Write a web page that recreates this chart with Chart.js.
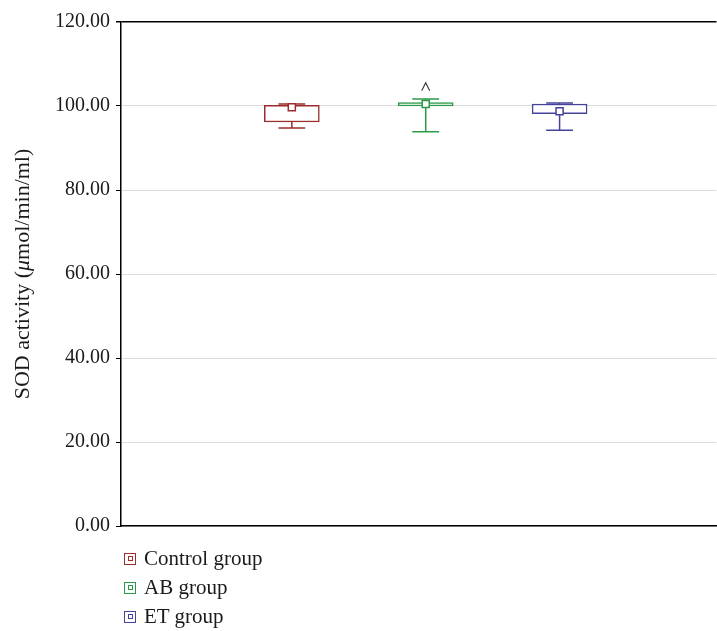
<!DOCTYPE html>
<html><head><meta charset="utf-8">
<script src="https://cdn.jsdelivr.net/npm/chart.js@4"></script>
<style>
html,body{margin:0;padding:0;background:#fff;overflow:hidden;}
#wrap{position:relative;width:717px;height:631px;overflow:hidden;}
#c{position:absolute;left:0;top:0;}
#legend{position:absolute;left:124px;top:544px;font-family:"Liberation Serif",serif;font-size:21px;color:#1a1a1a;}
.row{height:29px;display:flex;align-items:center;}
.ic{width:10px;height:10px;border:1.5px solid;display:flex;align-items:center;justify-content:center;margin-right:8px;box-sizing:content-box;}
.ic span{display:block;width:3px;height:3px;border:1.5px solid;box-sizing:content-box;}
</style></head>
<body><div id="wrap"><canvas id="c" width="723" height="545"></canvas><div id="legend"></div></div>
<script>
const groups = ['Control group', 'AB group', 'ET group'];
const positions = [1, 2, 3];
const whiskerLow = [94.76, 93.88, 94.21];
const q1 = [96.19, 100.0, 98.17];
const q3 = [100.17, 100.79, 100.48];
const whiskerHigh = [100.48, 101.67, 100.71];
const means = [99.69, 100.48, 98.74];
const outliers = [[], [104.6], []];
const yTicks = [0, 20, 40, 60, 80, 100, 120];
const yTitleParts = ['SOD activity (', 'μ', 'mol/min/ml)'];
const colors = ['#9b2d2d', '#2a9a48', '#45439a'];
const FONT = '"Liberation Serif", serif';

// legend
const lg = document.getElementById('legend');
groups.forEach((g, i) => {
  const r = document.createElement('div'); r.className = 'row';
  const ic = document.createElement('div'); ic.className = 'ic'; ic.style.borderColor = colors[i];
  const inn = document.createElement('span'); inn.style.borderColor = colors[i]; ic.appendChild(inn);
  const t = document.createElement('span'); t.textContent = g;
  r.appendChild(ic); r.appendChild(t); lg.appendChild(r);
});

const boxPlugin = {
  id: 'boxExtras',
  beforeDatasetsDraw(chart) {
    const ctx = chart.ctx, xs = chart.scales.x, ys = chart.scales.y;
    ctx.save();
    ctx.lineWidth = 1.5;
    positions.forEach((p, i) => {
      const x = xs.getPixelForValue(p);
      const xl = xs.getPixelForValue(p - 0.1), xr = xs.getPixelForValue(p + 0.1);
      ctx.strokeStyle = colors[i];
      ctx.beginPath();
      ctx.moveTo(x, ys.getPixelForValue(q1[i])); ctx.lineTo(x, ys.getPixelForValue(whiskerLow[i]));
      ctx.moveTo(x, ys.getPixelForValue(q3[i])); ctx.lineTo(x, ys.getPixelForValue(whiskerHigh[i]));
      ctx.moveTo(xl, ys.getPixelForValue(whiskerLow[i])); ctx.lineTo(xr, ys.getPixelForValue(whiskerLow[i]));
      ctx.moveTo(xl, ys.getPixelForValue(whiskerHigh[i])); ctx.lineTo(xr, ys.getPixelForValue(whiskerHigh[i]));
      ctx.stroke();
    });
    ctx.restore();
  },
  afterDatasetsDraw(chart) {
    const ctx = chart.ctx, xs = chart.scales.x, ys = chart.scales.y;
    ctx.save();
    ctx.strokeStyle = '#333';
    ctx.lineWidth = 1.1;
    positions.forEach((p, i) => {
      outliers[i].forEach(v => {
        const x = xs.getPixelForValue(p), y = ys.getPixelForValue(v);
        ctx.beginPath();
        ctx.moveTo(x - 4, y + 4); ctx.lineTo(x, y - 4); ctx.lineTo(x + 4, y + 4);
        ctx.stroke();
      });
    });
    ctx.restore();
  },
  afterDraw(chart) {
    const ctx = chart.ctx, a = chart.chartArea;
    ctx.save();
    ctx.translate(23, (a.top + a.bottom) / 2);
    ctx.rotate(-Math.PI / 2);
    ctx.fillStyle = '#1a1a1a';
    ctx.textBaseline = 'middle';
    ctx.textAlign = 'left';
    const fonts = ['22px ' + FONT, 'italic 22px ' + FONT, '22px ' + FONT];
    let total = 0;
    const w = yTitleParts.map((t, k) => { ctx.font = fonts[k]; const m = ctx.measureText(t).width; total += m; return m; });
    let x = -total / 2;
    yTitleParts.forEach((t, k) => { ctx.font = fonts[k]; ctx.fillText(t, x, 0); x += w[k]; });
    ctx.restore();
  }
};

new Chart(document.getElementById('c'), {
  type: 'bar',
  data: {
    datasets: [
      {
        type: 'scatter',
        order: 0,
        data: positions.map((p, i) => ({ x: p, y: means[i] })),
        pointStyle: 'rect',
        radius: 5,
        borderColor: colors,
        backgroundColor: '#fff',
        borderWidth: 1.5
      },
      {
        type: 'bar',
        order: 1,
        data: positions.map((p, i) => ({ x: p, y: [q1[i], q3[i]] })),
        backgroundColor: '#fff',
        borderColor: colors,
        borderWidth: 1.5,
        borderSkipped: false,
        barThickness: 55,
        grouped: false
      }
    ]
  },
  options: {
    responsive: false,
    animation: false,
    layout: { padding: { top: 22, left: 0, right: 0, bottom: 0 } },
    plugins: { legend: { display: false }, tooltip: { enabled: false } },
    scales: {
      x: {
        type: 'linear',
        offset: false,
        min: -0.276, max: 4.172,
        ticks: { display: false },
        grid: { display: false, drawTicks: false },
        border: { display: true, color: '#000', width: 1.5 },
        afterFit: s => { s.height = 19; }
      },
      y: {
        min: 0, max: 120,
        afterBuildTicks: s => { s.ticks = yTicks.map(v => ({ value: v })); },
        ticks: {
          callback: v => Number(v).toFixed(2),
          color: '#1a1a1a',
          font: { family: FONT, size: 20 },
          padding: 6
        },
        grid: {
          color: c => (c.tick && c.tick.value === 120) ? '#000' : '#dcdcdc',
          lineWidth: c => (c.tick && c.tick.value === 120) ? 1.5 : 1,
          tickColor: '#000',
          tickLength: 5
        },
        border: { color: '#000', width: 1.5 },
        afterFit: s => { s.width = 121; }
      }
    }
  },
  plugins: [boxPlugin]
});
</script>
</body></html>
